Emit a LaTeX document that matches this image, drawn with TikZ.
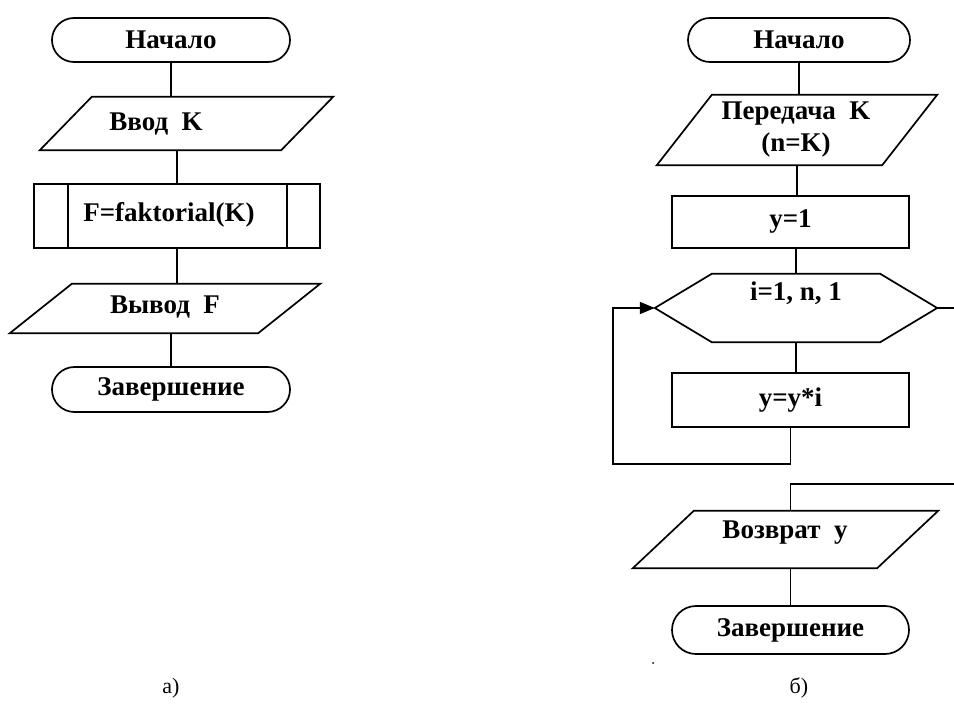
\documentclass[tikz,border=0pt]{standalone}
\usepackage{fontspec}
\setmainfont{Liberation Serif}
\usetikzlibrary{shapes.misc,arrows.meta,calc}
\tikzset{
  ln/.style={line width=1.7pt},
  box/.style={ln,draw,rectangle,inner sep=0pt},
  term/.style={ln,draw,rounded rectangle,inner sep=0pt},
  ghost/.style={rectangle,inner sep=0pt,draw=none},
  txt/.style={inner sep=0pt,font=\fontsize{27}{32}\selectfont\bfseries,align=center},
  captxt/.style={inner sep=0pt,font=\fontsize{22}{26}\selectfont},
  conn/.style={ln},
  arr/.style={ln,-{Triangle[length=15pt,width=12pt]}}
}
\newcommand\paral[2]{\draw[ln] ($(#1.north west)+(#2,0)$) -- (#1.north east) -- ($(#1.south east)+(-#2,0)$) -- (#1.south west) -- cycle;}
\begin{document}
\begin{tikzpicture}[x=1pt,y=-1pt]
\useasboundingbox (0,0) rectangle (954,706);
% ---------- left ----------
\node[term,minimum width=238pt,minimum height=44pt,txt] (s1) at (171,40) {Начало};
\node[ghost,minimum width=293pt,minimum height=53pt] (in) at (186.5,123.5) {};
\paral{in}{52}
\node[txt] (tin) at (156,124) {Ввод\ \ K};
\node[box,minimum width=286pt,minimum height=64pt] (sub) at (177,216) {};
\draw[ln] ($(sub.north west)+(35,0)$) -- ($(sub.south west)+(35,0)$);
\draw[ln] ($(sub.north east)+(-34,0)$) -- ($(sub.south east)+(-34,0)$);
\node[txt] (tsub) at (169,215) {F=faktorial(K)};
\node[ghost,minimum width=310pt,minimum height=49pt] (out) at (165,308.5) {};
\paral{out}{62}
\node[txt] (tout) at (165,307) {Вывод\ \ F};
\node[term,minimum width=238pt,minimum height=45pt,txt] (e1) at (171,389.5) {Завершение};
\draw[conn] (s1.south) -- (s1.south |- in.north);
\draw[conn] (sub.north |- in.south) -- (sub.north);
\draw[conn] (sub.south) -- (sub.south |- out.north);
\draw[conn] (e1.north |- out.south) -- (e1.north);
\node[captxt] (la) at (171,688) {а)};
% ---------- right ----------
\node[term,minimum width=222pt,minimum height=44pt,txt] (s2) at (799,40) {Начало};
\node[ghost,minimum width=280pt,minimum height=70pt] (pk) at (797,130) {};
\paral{pk}{55}
\node[txt] (tpk) at (796,130) {Передача\ \ K\\(n=K)};
\node[box,minimum width=237pt,minimum height=52pt,txt] (y1) at (790.5,222) {y=1};
\node[ghost,minimum width=282pt,minimum height=68pt] (hex) at (796,308) {};
\draw[ln] (hex.west) -- ($(hex.north west)+(57,0)$) -- ($(hex.north east)+(-57,0)$) -- (hex.east) -- ($(hex.south east)+(-57,0)$) -- ($(hex.south west)+(57,0)$) -- cycle;
\node[txt] (thex) at (796,293) {i=1, n, 1};
\node[box,minimum width=237pt,minimum height=54pt,txt] (yyi) at (790.5,400) {y=y*i};
\node[ghost,minimum width=305pt,minimum height=57pt] (ret) at (785.5,539.5) {};
\paral{ret}{61}
\node[txt] (tret) at (785,533) {Возврат\ \ y};
\node[term,minimum width=237pt,minimum height=48pt,txt] (e2) at (790.5,630) {Завершение};
\coordinate (loopc) at (613,464);
\coordinate (exA) at (954,308);
\coordinate (exB) at (954,484);
\draw[conn] (s2.south) -- (s2.south |- pk.north);
\draw[conn] (pk.south) -- (pk.south |- y1.north);
\draw[conn] (hex.north |- y1.south) -- (hex.north);
\draw[conn] (hex.south) -- (hex.south |- yyi.north);
\draw[arr] (yyi.south) |- (loopc) |- (hex.west);
\draw[conn] (hex.east) -- (exA);
\draw[conn] (exB) -| (e2.north |- ret.north);
\draw[conn] (e2.north |- ret.south) -- (e2.north);
\fill (653,663) circle (1pt);
\node[captxt] (lb) at (799,688) {б)};
\end{tikzpicture}
\end{document}
